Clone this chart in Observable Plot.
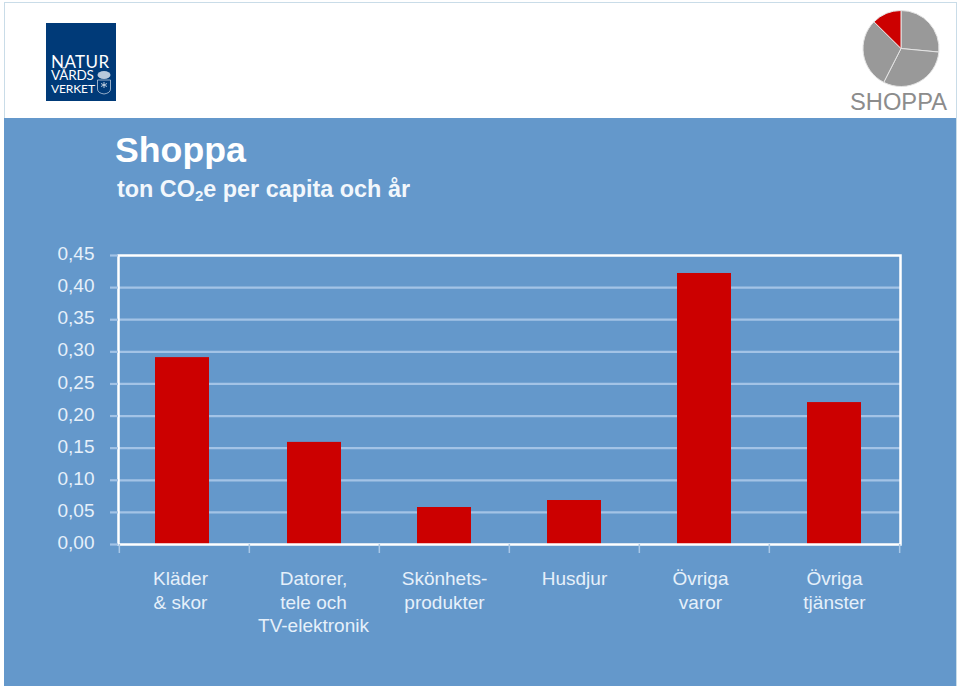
<!DOCTYPE html>
<html lang="sv">
<head>
<meta charset="utf-8">
<script src="https://cdn.jsdelivr.net/npm/d3@7"></script>
<script src="https://cdn.jsdelivr.net/npm/@observablehq/plot@0.6"></script>
<style>
  html, body { margin: 0; padding: 0; background: #fff; }
  body { width: 960px; height: 690px; position: relative; overflow: hidden; font-family: "Liberation Sans", Arial, sans-serif; }
  .abs { position: absolute; white-space: nowrap; }
  #slide { left: 4px; top: 2px; width: 953px; height: 684px; box-sizing: border-box; border: 1px solid #c9dce8; border-bottom: none; background: #fff; }
  #panel { left: 4px; top: 118px; width: 952px; height: 568px; background: #6498cb; }
  #logo { left: 46px; top: 23px; width: 70px; height: 78px; background: #003a78; color: #fff; font-family: "Lato", sans-serif; }
  #logo span { position: absolute; left: 5px; line-height: .8; }
  #title { left: 115px; top: 130px; font-size: 35.7px; font-weight: bold; color: #fff; line-height: 41px; }
  #subtitle { left: 117px; top: 176px; font-size: 23.4px; font-weight: bold; color: #f2f7fc; line-height: 26px; }
  #subtitle sub { font-size: 15px; vertical-align: baseline; position: relative; top: 4px; }
  #tag { left: 850px; top: 88px; font-size: 23.7px; color: #8c8c8c; line-height: 28px; }
  #chart { left: 0; top: 0; }
</style>
</head>
<body>
<div class="abs" id="slide"></div>
<div class="abs" id="panel"></div>
<div class="abs" id="logo">
  <span style="top:31.5px;font-size:17px;letter-spacing:.4px">NATUR</span>
  <span style="top:47px;font-size:13.5px;letter-spacing:-.2px">VÅRDS</span>
  <span style="top:61px;font-size:12px;letter-spacing:-.1px">VERKET</span>
  <svg style="position:absolute;left:50px;top:46px" width="16" height="26" viewBox="0 0 16 26">
    <ellipse cx="8" cy="6" rx="6.5" ry="4" fill="#b9c9dc"/>
    <path d="M1.5 11h13v9q0 4-6.5 5q-6.5-1-6.5-5z" fill="none" stroke="#b9c9dc" stroke-width=".8"/>
    <path d="M8 13v6M5 14.5l6 3M11 14.5l-6 3" stroke="#dfe7f0" stroke-width=".8"/>
  </svg>
</div>
<div class="abs" id="title">Shoppa</div>
<div class="abs" id="subtitle">ton CO<sub>2</sub>e per capita och år</div>
<div class="abs" id="tag">SHOPPA</div>
<div class="abs" id="chart"></div>
<script>
const categories = ["Kläder\n& skor", "Datorer,\ntele och\nTV-elektronik", "Skönhets-\nprodukter", "Husdjur", "Övriga\nvaror", "Övriga\ntjänster"];
const values = [0.291, 0.159, 0.0576, 0.0685, 0.422, 0.221];
const yTicks = [0, 0.05, 0.10, 0.15, 0.20, 0.25, 0.30, 0.35, 0.40, 0.45];
const pieValues = [26.5, 31.0, 29.9, 12.6];
const pieColors = ["#999999", "#999999", "#999999", "#cc0000"];

const rows = categories.map((c, i) => ({c, v: values[i]}));
const labelColor = "#e6f0fa";
const gridColor = "#a3c3e6";

const pieMark = () => {
  const ns = "http://www.w3.org/2000/svg";
  const g = document.createElementNS(ns, "g");
  g.setAttribute("transform", "translate(901,48.5)");
  const arcs = d3.pie().sort(null)(pieValues);
  const arc = d3.arc().innerRadius(0).outerRadius(38);
  arcs.forEach((a, i) => {
    const p = document.createElementNS(ns, "path");
    p.setAttribute("d", arc(a));
    p.setAttribute("fill", pieColors[i]);
    p.setAttribute("stroke", "#e4e4e4");
    p.setAttribute("stroke-width", "1");
    g.appendChild(p);
  });
  return g;
};

const step = 782 / categories.length;
const labelAxis = (ticks, dx) => Plot.axisX({
  ticks,
  dx,
  tickSize: 0,
  tickPadding: 24,
  color: labelColor,
  fontSize: 19,
  lineHeight: 1.24,
  lineAnchor: "top",
  label: null
});
const boundaryAxis = (ticks, dx) => Plot.axisX({
  ticks,
  dx,
  tickSize: 9,
  tickFormat: () => "",
  stroke: "#a9c7e7",
  strokeWidth: 1.5,
  label: null
});

const chart = Plot.plot({
  width: 960,
  height: 690,
  marginLeft: 118,
  marginRight: 60,
  marginTop: 255,
  marginBottom: 146,
  style: {background: "transparent", fontFamily: "'Liberation Sans', Arial, sans-serif"},
  x: {domain: categories, paddingInner: 0.585, paddingOuter: 0.2925, label: null},
  y: {domain: [0, 0.45], label: null},
  marks: [
    Plot.ruleY(yTicks.slice(1, -1), {y: d => d, stroke: gridColor, strokeWidth: 2.2}),
    Plot.barY(rows.slice(0, 1), {x: "c", y: "v", fill: "#cc0000", dx: -2}),
    Plot.barY(rows.slice(1), {x: "c", y: "v", fill: "#cc0000"}),
    Plot.frame({stroke: "#ffffff", strokeWidth: 2.5}),
    Plot.axisY({
      ticks: yTicks,
      tickSize: 8,
      tickFormat: () => "",
      stroke: gridColor,
      strokeWidth: 2.2,
      label: null
    }),
    Plot.axisY({
      ticks: yTicks,
      tickSize: 0,
      tickPadding: 24,
      color: labelColor,
      fontSize: 19,
      dy: -1.5,
      tickFormat: d => d.toFixed(2).replace(".", ","),
      label: null
    }),
    labelAxis([categories[0], categories[4]], -4),
    labelAxis([categories[1]], -1),
    labelAxis([categories[2], categories[3], categories[5]], 0),
    boundaryAxis(categories, -step / 2),
    boundaryAxis(categories.slice(-1), step / 2),
    pieMark
  ]
});
document.getElementById("chart").appendChild(chart);
</script>
</body>
</html>
